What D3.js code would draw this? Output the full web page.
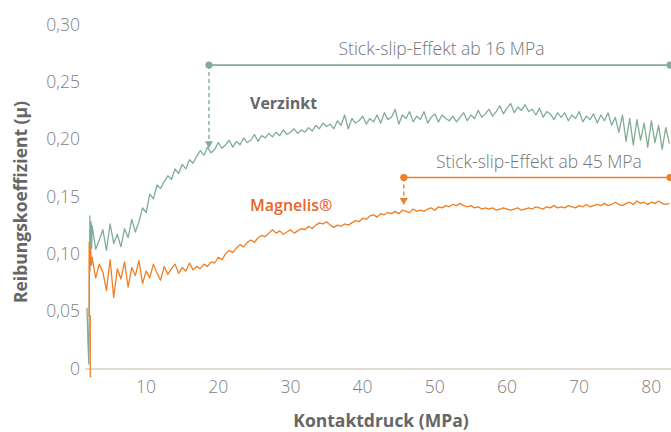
<!DOCTYPE html>
<html>
<head>
<meta charset="utf-8">
<script src="https://cdn.jsdelivr.net/npm/d3@7"></script>
<style>
	body { margin: 0; background: #fff; }
	text { font-family: "Open Sans", sans-serif; }
	.tick-label { font-size: 17.5px; font-weight: 300; fill: #808080; }
	.axis-title { font-size: 17.5px; font-weight: 700; fill: #666; }
	.note { font-size: 17.5px; font-weight: 300; fill: #757575; }
</style>
</head>
<body>
<div id="chart-area"></div>
<script>

// Axis ticks
let xTicks = [10, 20, 30, 40, 50, 60, 70, 80];
let yTicks = [0, 0.05, 0.10, 0.15, 0.20, 0.25, 0.30];

// Measurements: readings every 0.5 MPa, starting at 3 MPa
let pressureStart = 3.0;
let pressureStep = 0.5;

// run-in at the very start (MPa, µ)
let verzinktStart = [[2.3, 0.053], [2.45, 0.02], [2.55, 0.004], [2.65, 0.09], [2.7, 0.133], [2.75, 0.095], [2.85, 0.128], [2.95, 0.105]];
let magnelisStart = [[2.9, -0.007], [2.75, -0.007], [2.75, 0.046], [2.6, 0.046], [2.6, 0.11], [2.7, 0.085], [2.8, 0.105], [2.9, 0.09]];

let verzinkt = [
	0.125, 0.104, 0.112, 0.121, 0.103, 0.126, 0.109, 0.117, 0.106, 0.122,
	0.114, 0.130, 0.119, 0.128, 0.140, 0.136, 0.152, 0.148, 0.160, 0.157,
	0.163, 0.168, 0.165, 0.174, 0.170, 0.178, 0.174, 0.182, 0.179, 0.185,
	0.190, 0.186, 0.193, 0.188, 0.191, 0.197, 0.192, 0.195, 0.199, 0.193,
	0.198, 0.195, 0.201, 0.197, 0.199, 0.204, 0.198, 0.203, 0.201, 0.205,
	0.202, 0.206, 0.203, 0.208, 0.204, 0.206, 0.209, 0.205, 0.208, 0.206,
	0.210, 0.207, 0.212, 0.209, 0.214, 0.211, 0.213, 0.209, 0.216, 0.212,
	0.221, 0.209, 0.218, 0.214, 0.216, 0.220, 0.213, 0.218, 0.215, 0.221,
	0.214, 0.223, 0.217, 0.219, 0.226, 0.213, 0.221, 0.218, 0.224, 0.215,
	0.220, 0.217, 0.224, 0.214, 0.219, 0.222, 0.215, 0.221, 0.218, 0.216,
	0.220, 0.215, 0.219, 0.223, 0.216, 0.221, 0.218, 0.225, 0.219, 0.222,
	0.226, 0.220, 0.224, 0.229, 0.222, 0.227, 0.231, 0.223, 0.228, 0.225,
	0.230, 0.224, 0.226, 0.221, 0.227, 0.219, 0.224, 0.222, 0.217, 0.223,
	0.219, 0.223, 0.216, 0.221, 0.218, 0.224, 0.215, 0.220, 0.217, 0.222,
	0.214, 0.221, 0.216, 0.223, 0.212, 0.219, 0.206, 0.221, 0.198, 0.218,
	0.195, 0.217, 0.199, 0.214, 0.193, 0.216, 0.197, 0.212, 0.191, 0.210,
	0.196
];

let magnelis = [
	0.097, 0.079, 0.091, 0.084, 0.068, 0.095, 0.062, 0.087, 0.078, 0.093,
	0.071, 0.088, 0.081, 0.094, 0.074, 0.085, 0.079, 0.091, 0.083, 0.077,
	0.089, 0.082, 0.087, 0.091, 0.083, 0.088, 0.085, 0.092, 0.086, 0.089,
	0.087, 0.091, 0.089, 0.093, 0.092, 0.097, 0.095, 0.100, 0.103, 0.101,
	0.105, 0.108, 0.106, 0.110, 0.112, 0.110, 0.114, 0.116, 0.115, 0.118,
	0.121, 0.118, 0.120, 0.117, 0.119, 0.121, 0.118, 0.120, 0.122, 0.121,
	0.124, 0.122, 0.125, 0.127, 0.126, 0.128, 0.125, 0.123, 0.125, 0.124,
	0.126, 0.125, 0.127, 0.129, 0.128, 0.131, 0.130, 0.133, 0.134, 0.132,
	0.135, 0.134, 0.136, 0.135, 0.137, 0.135, 0.138, 0.137, 0.136, 0.139,
	0.137, 0.138, 0.137, 0.139, 0.140, 0.138, 0.141, 0.140, 0.142, 0.141,
	0.143, 0.142, 0.144, 0.142, 0.141, 0.142, 0.140, 0.141, 0.139, 0.140,
	0.139, 0.140, 0.138, 0.139, 0.140, 0.139, 0.138, 0.139, 0.140, 0.138,
	0.139, 0.140, 0.139, 0.141, 0.140, 0.139, 0.141, 0.140, 0.142, 0.140,
	0.141, 0.140, 0.142, 0.141, 0.140, 0.142, 0.141, 0.143, 0.141, 0.142,
	0.143, 0.142, 0.144, 0.142, 0.143, 0.145, 0.143, 0.142, 0.144, 0.145,
	0.143, 0.146, 0.144, 0.145, 0.143, 0.145, 0.144, 0.146, 0.144, 0.143,
	0.144
];

// Stick-slip annotations: start MPa, level of the bracket, level the arrow points to
let verzinktNote = {from: 19.2, level: 0.2645, target: 0.192, text: "Stick-slip-Effekt ab 16 MPa"};
let magnelisNote = {from: 46.2, level: 0.1665, target: 0.1425, text: "Stick-slip-Effekt ab 45 MPa"};

let green = "#80ad98";
let orange = "#f07e22";

drawChart();

function drawChart(){

	let width = 671, height = 432;

	let svg = d3.select("#chart-area").append("svg")
		.attr("width", width)
		.attr("height", height);

	// scales
	let x = d3.scaleLinear()
		.domain([0, 83.5])
		.range([70.4, 673]);

	let y = d3.scaleLinear()
		.domain([0, 0.30])
		.range([368.5, 24.4]);

	// baseline
	svg.append("line")
		.attr("x1", 85).attr("x2", width)
		.attr("y1", y(0) + 0.5).attr("y2", y(0) + 0.5)
		.attr("stroke", "#e2ddd2")
		.attr("stroke-width", 2);

	// axes (labels only)
	let xAxis = d3.axisBottom(x)
		.tickValues(xTicks)
		.tickSize(0)
		.tickPadding(0)
		.tickFormat(d3.format("d"));

	let gx = svg.append("g")
		.attr("transform", "translate(3,381)")
		.call(xAxis);
	gx.select(".domain").remove();
	gx.selectAll("text").attr("class", "tick-label").attr("font-family", null).attr("font-size", null).attr("fill", null);

	let yAxis = d3.axisLeft(y)
		.tickValues(yTicks)
		.tickSize(0)
		.tickPadding(0)
		.tickFormat(d => d === 0 ? "0" : d3.format(".2f")(d).replace(".", ","));

	let gy = svg.append("g")
		.attr("transform", "translate(80,0)")
		.call(yAxis);
	gy.select(".domain").remove();
	gy.selectAll("text").attr("class", "tick-label").attr("font-family", null).attr("font-size", null).attr("fill", null);

	// axis titles
	svg.append("text")
		.attr("class", "axis-title")
		.attr("x", 381)
		.attr("y", 427)
		.attr("text-anchor", "middle")
		.text("Kontaktdruck (MPa)");

	svg.append("text")
		.attr("class", "axis-title")
		.attr("transform", "translate(27,202) rotate(-90)")
		.attr("text-anchor", "middle")
		.text("Reibungskoeffizient (µ)");

	// series
	let toPoints = (start, values) => start.concat(values.map((v, i) => [pressureStart + i * pressureStep, v]));

	let line = d3.line()
		.x(d => x(d[0]))
		.y(d => y(d[1]));

	svg.append("path")
		.datum(toPoints(verzinktStart, verzinkt))
		.attr("fill", "none")
		.attr("stroke", green)
		.attr("stroke-width", 1.3)
		.attr("stroke-linejoin", "round")
		.attr("d", line);

	svg.append("path")
		.datum(toPoints(magnelisStart, magnelis))
		.attr("fill", "none")
		.attr("stroke", orange)
		.attr("stroke-width", 1.3)
		.attr("stroke-linejoin", "round")
		.attr("d", line);

	// series labels
	svg.append("text")
		.attr("x", 250).attr("y", 109)
		.style("font-size", "16px").style("font-weight", 700).style("fill", "#666")
		.text("Verzinkt");

	svg.append("text")
		.attr("x", 250).attr("y", 211)
		.style("font-size", "16px").style("font-weight", 600).style("fill", "#e8652b")
		.text("Magnelis®");

	// stick-slip brackets
	[[verzinktNote, green], [magnelisNote, orange]].forEach(([note, color]) => {
		let x0 = x(note.from), x1 = 670, yl = y(note.level), yt = y(note.target);

		svg.append("line")
			.attr("x1", x0).attr("x2", x1)
			.attr("y1", yl).attr("y2", yl)
			.attr("stroke", color).attr("stroke-width", 1.6);

		svg.append("line")
			.attr("x1", x0).attr("x2", x0)
			.attr("y1", yl).attr("y2", yt - 6)
			.attr("stroke", color).attr("stroke-width", 1.4)
			.attr("stroke-dasharray", "4,3");

		svg.append("path")
			.attr("d", `M${x0 - 4},${yt - 7}L${x0 + 4},${yt - 7}L${x0},${yt}Z`)
			.attr("fill", color);

		svg.selectAll(null)
			.data([x0, x1])
			.enter()
			.append("circle")
			.attr("cx", d => d).attr("cy", yl)
			.attr("r", 3.6)
			.attr("fill", color);

		svg.append("text")
			.attr("class", "note")
			.attr("x", (x0 + x1) / 2 + 2)
			.attr("y", yl - 10)
			.attr("text-anchor", "middle")
			.text(note.text);
	});
}
</script>
</body>
</html>
